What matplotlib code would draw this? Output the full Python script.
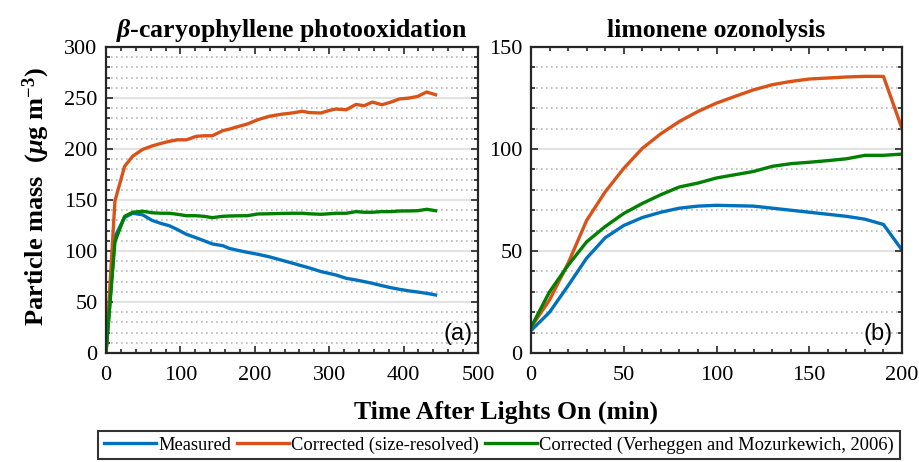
import numpy as np
import matplotlib
matplotlib.use("Agg")
import matplotlib.pyplot as plt
from matplotlib.ticker import MultipleLocator

plt.rcParams['font.family'] = ['Liberation Serif', 'DejaVu Serif']
plt.rcParams['mathtext.fontset'] = 'custom'
plt.rcParams['mathtext.rm'] = 'Liberation Serif:bold'
plt.rcParams['mathtext.it'] = 'Liberation Serif:italic:bold'
plt.rcParams['mathtext.bf'] = 'Liberation Serif:bold'

# beta-caryophyllene photooxidation (min, ug m-3)
t_bcp = [0, 12, 25, 36, 49, 62, 74, 85, 96, 108, 121, 132, 143, 157, 166, 175,
         190, 204, 219, 235, 251, 264, 273, 289, 300, 309, 323, 336, 347, 358,
         371, 383, 394, 408, 419, 431, 443]
measured_bcp = [0, 114, 133, 137, 135.5, 130, 127, 124.8, 121, 116.4, 113, 110,
                106.9, 105.2, 102.5, 101, 98.7, 96.8, 94.4, 91.2, 88, 85.3,
                83.5, 79.8, 78, 76.5, 73.2, 71.6, 70, 68.3, 66, 64, 62.5, 60.8,
                59.8, 58.5, 56.9]
sizeres_bcp = [0, 149, 183, 193, 199.5, 203, 205.5, 207.5, 209, 209, 212.4,
               213, 213, 218, 219.5, 221.5, 224.5, 228.7, 232, 234, 235.4, 237,
               235.7, 235.3, 237.8, 239.2, 238.5, 243.7, 242.4, 246, 243.4,
               246, 249, 250, 251.6, 255.9, 253.2]
vm_bcp = [0, 109, 134, 138, 139, 137.5, 137, 137, 136, 134.6, 134.6, 134,
          132.7, 134, 134.3, 134.5, 134.6, 136.3, 136.5, 136.8, 137, 137,
          136.5, 136, 136.5, 137, 137, 138.6, 138, 138, 138.6, 138.6, 139.2,
          139.3, 139.5, 140.9, 139.5]

# limonene ozonolysis
t_lim = [0, 10, 20, 30, 40, 50, 60, 70, 80, 90, 100, 110, 120, 130, 140, 150,
         160, 170, 180, 190, 200]
measured_lim = [11, 20, 33, 46.5, 56.5, 62.5, 66.4, 69, 71, 72, 72.4, 72.2, 72,
                71, 70, 69, 68, 67, 65.6, 63, 50.5]
sizeres_lim = [12.6, 26, 44, 65, 79, 90.5, 100.3, 107.5, 113.5, 118.4, 122.5,
               125.8, 129, 131.5, 133.1, 134.3, 134.8, 135.3, 135.6, 135.6, 110]
vm_lim = [12.6, 30, 43, 54.5, 62, 68.4, 73.3, 77.6, 81.4, 83.3, 85.8, 87.4, 89,
          91.5, 92.8, 93.5, 94.3, 95.2, 96.9, 96.9, 97.5]

labels = ['Measured', 'Corrected (size-resolved)',
          'Corrected (Verheggen and Mozurkewich, 2006)']
colors = ['#0072BD', '#D95319', '#008000']

fig = plt.figure(figsize=(9.19, 4.62), dpi=100)
ax1 = fig.add_axes([106/919, 1-353/462, 372/919, 306/462])
ax2 = fig.add_axes([531/919, 1-353/462, 371/919, 306/462])


def style(ax, xmax, xmaj, xmin, ymax):
    ax.set_xlim(0, xmax)
    ax.set_ylim(0, ymax)
    ax.xaxis.set_major_locator(MultipleLocator(xmaj))
    ax.xaxis.set_minor_locator(MultipleLocator(xmin))
    ax.yaxis.set_major_locator(MultipleLocator(50))
    ax.yaxis.set_minor_locator(MultipleLocator(10))
    ax.tick_params(which='both', direction='in', top=True, right=True,
                   color='#262626', width=1.2)
    ax.tick_params(which='major', length=5, labelsize=16)
    ax.tick_params(which='minor', length=3)
    ax.tick_params(axis='x', which='major', pad=9)
    ax.tick_params(axis='y', which='major', pad=6)
    ax.grid(True, which='major', axis='y', color='#e2e2e2', lw=1.5)
    ax.grid(True, which='minor', axis='y', color='#b8b8b8', lw=1.2,
            linestyle=(0, (1, 2)))
    ax.set_axisbelow(True)
    for s in ax.spines.values():
        s.set_color('#262626')
        s.set_linewidth(1.6)


lw = 2.4
for y, c, lab in zip([measured_bcp, sizeres_bcp, vm_bcp], colors, labels):
    ax1.plot(t_bcp, y, color=c, lw=lw, label=lab)
for y, c in zip([measured_lim, sizeres_lim, vm_lim], colors):
    ax2.plot(t_lim, y, color=c, lw=lw)

style(ax1, 500, 100, 20, 300)
style(ax2, 200, 50, 10, 150)

ax1.set_title(r'$\beta$-caryophyllene photooxidation', fontsize=18.5,
              fontweight='bold', pad=7)
ax2.set_title('limonene ozonolysis', fontsize=18.5, fontweight='bold', pad=7)

ax1.text(0.985, 0.025, '(a)', transform=ax1.transAxes, ha='right',
         va='bottom', fontsize=17, family='Liberation Sans')
ax2.text(0.975, 0.025, '(b)', transform=ax2.transAxes, ha='right',
         va='bottom', fontsize=17, family='Liberation Sans')

fig.text(36/919, 1-197/462, r'Particle mass  ($\mu$g m$^{-3}$)', rotation=90,
         ha='center', va='center', fontsize=19, fontweight='bold')
fig.text(506/919, 1-412/462, 'Time After Lights On (min)', ha='center',
         va='center', fontsize=18.5, fontweight='bold')

leg = fig.legend(*ax1.get_legend_handles_labels(), loc='upper center',
                 bbox_to_anchor=(499/919, 1-431/462), ncol=3, fontsize=13.3,
                 frameon=True, fancybox=False, edgecolor='black',
                 handlelength=2.8, handletextpad=0.15, columnspacing=0.3,
                 borderpad=0.3, borderaxespad=0)
leg.get_frame().set_linewidth(1.5)

fig.savefig('out.png', dpi=100)
